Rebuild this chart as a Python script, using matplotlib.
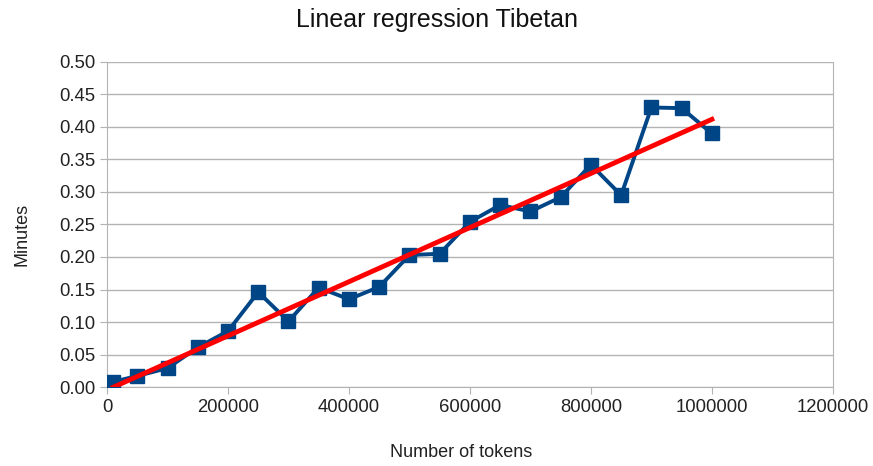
import numpy as np
import matplotlib
matplotlib.use("Agg")
import matplotlib.pyplot as plt

plt.rcParams['font.family'] = ['Liberation Sans', 'DejaVu Sans']

tokens = [10000, 50000, 100000, 150000, 200000, 250000, 300000, 350000, 400000,
          450000, 500000, 550000, 600000, 650000, 700000, 750000, 800000, 850000,
          900000, 950000, 1000000]
minutes = [0.008, 0.017, 0.029, 0.061, 0.086, 0.146, 0.101, 0.153, 0.135,
           0.154, 0.203, 0.205, 0.254, 0.280, 0.270, 0.292, 0.342, 0.295,
           0.430, 0.429, 0.390]
y_ticks = [0.00, 0.05, 0.10, 0.15, 0.20, 0.25, 0.30, 0.35, 0.40, 0.45, 0.50]
x_ticks = [0, 200000, 400000, 600000, 800000, 1000000, 1200000]

fig = plt.figure(figsize=(8.73, 4.66), dpi=100)
ax = fig.add_axes([0.1226, 0.1695, 0.8314, 0.6975])

x = np.array(tokens, dtype=float)
y = np.array(minutes)
slope, intercept = np.polyfit(x, y, 1)
xl = np.array([x.min(), x.max()])

ax.plot(x, y, color='#004586', lw=2.8, marker='s', ms=10, zorder=3)
ax.plot(xl, slope * xl + intercept, color='#ff0000', lw=3.5, zorder=4)

ax.set_xlim(0, 1200000)
ax.set_ylim(0, 0.5)
ax.set_xticks(x_ticks)
ax.set_xticklabels([str(v) for v in x_ticks])
ax.set_yticks(y_ticks)
ax.set_yticklabels([f"{v:.2f}" for v in y_ticks])
ax.yaxis.grid(True, color='#b3b3b3', lw=1)
ax.set_axisbelow(True)
ax.spines['top'].set_visible(False)
for s in ['left', 'bottom', 'right']:
    ax.spines[s].set_color('#b3b3b3')
ax.tick_params(axis='both', colors='#b3b3b3', labelcolor='#222222', labelsize=13.3, length=5)
ax.set_xlabel('Number of tokens', fontsize=13, color='#222222')
ax.set_ylabel('Minutes', fontsize=13, color='#222222')
ax.xaxis.set_label_coords(0.488, -0.175)
ax.yaxis.set_label_coords(-0.106, 0.47)
fig.suptitle('Linear regression Tibetan', fontsize=18, y=0.982, color='#111111')

fig.savefig('out.png', dpi=100)
